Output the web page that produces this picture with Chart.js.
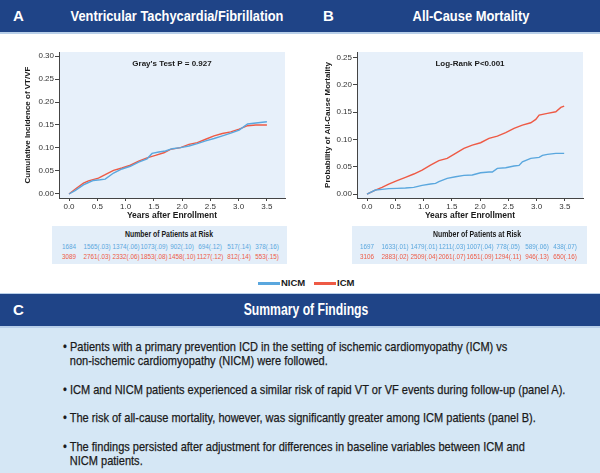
<!DOCTYPE html>
<html><head><meta charset="utf-8">
<script src="https://cdn.jsdelivr.net/npm/chart.js@4.4.1/dist/chart.umd.min.js"></script>
<style>
html,body{margin:0;padding:0;background:#fff;}
#page{position:relative;width:600px;height:473px;overflow:hidden;font-family:"Liberation Sans",Arial,sans-serif;color:#1a1a1a;}
.abs{position:absolute;white-space:nowrap;}
#barTop{position:absolute;left:0;top:0;width:600px;height:32px;background:#1f4487;border-bottom:2px solid #b8cfe9;}
#barC{position:absolute;left:0;top:293px;width:600px;height:32px;background:#1f4487;border-top:1px solid #b8cfe9;border-bottom:2px solid #b8cfe9;}
.hdr{color:#fff;font-weight:bold;}
.letter{font-size:15px;line-height:32px;}
.ctr{position:absolute;white-space:nowrap;display:inline-block;}
.htitle{font-size:15px;line-height:32px;}
#summary{position:absolute;left:0;top:328px;width:600px;height:145px;background:#d5e7f5;}
#bullets{position:absolute;left:63px;top:12px;display:inline-block;font-size:13px;line-height:14px;transform-origin:0 0;-webkit-text-stroke:0.25px #1a1a1a;color:#1a1a1a;}
#bullets p{margin:0 0 14.5px 0;padding-left:8px;text-indent:-8px;white-space:pre;}
.risk{position:absolute;top:226px;width:235px;height:38px;background:#e3eef9;}
.rtitle{font-weight:bold;font-size:8.5px;line-height:10px;top:3px;}
.rnum{position:absolute;font-size:7.5px;line-height:9px;transform:translateX(-50%) scaleX(0.84);white-space:nowrap;}
.leg{position:absolute;top:277px;font-size:9.5px;font-weight:bold;line-height:12px;}
.legline{position:absolute;top:282px;height:3px;width:22px;}
canvas{position:absolute;}
</style>
</head><body>
<div id="page">
  <div id="barTop"></div>
  <div class="abs hdr letter" style="left:13px;top:0;">A</div>
  <span class="ctr hdr htitle" id="tA" style="top:0;"></span>
  <div class="abs hdr letter" style="left:323px;top:0;">B</div>
  <span class="ctr hdr htitle" id="tB" style="top:0;"></span>

  <canvas id="cA" width="300" height="200" style="left:0;top:33px;"></canvas>
  <canvas id="cB" width="300" height="200" style="left:300px;top:33px;"></canvas>

  <div class="risk" id="rA" style="left:52px;"><span class="ctr rtitle" id="rtA"></span></div>
  <div class="risk" id="rB" style="left:352px;"><span class="ctr rtitle" id="rtB"></span></div>

  <div class="legline" style="left:258px;background:#5aa7de;"></div>
  <div class="leg" style="left:281px;" id="lg0"></div>
  <div class="legline" style="left:314px;background:#ee5a45;"></div>
  <div class="leg" style="left:337px;" id="lg1"></div>

  <div id="barC"></div>
  <div class="abs hdr letter" style="left:13px;top:294px;">C</div>
  <span class="ctr hdr htitle" id="tC" style="top:294px;font-size:16px;"></span>

  <div id="summary"><div id="bullets"></div></div>
</div>
<script>
// ---------- data ----------
const seriesNames = ['NICM', 'ICM'];
const seriesColors = ['#5aa7de', '#ee5a45'];
const panelTitles = ['Ventricular Tachycardia/Fibrillation', 'All-Cause Mortality'];
const yTitles = ['Cumulative Incidence of VT/VF', 'Probability of All-Cause Mortality'];
const xTitle = 'Years after Enrollment';
const notes = ["Gray's Test P = 0.927", 'Log-Rank P<0.001'];
const xTickVals = [0, 0.5, 1, 1.5, 2, 2.5, 3, 3.5];
const aYTicks = [0, 0.05, 0.10, 0.15, 0.20, 0.25, 0.30];
const bYTicks = [0, 0.05, 0.10, 0.15, 0.20, 0.25];

// Panel A: cumulative incidence of VT/VF
const aNicmT = [0, 0.107, 0.255, 0.344, 0.432, 0.551, 0.640, 0.788, 0.936, 1.084, 1.232, 1.380, 1.469, 1.588, 1.706, 1.825, 1.973, 2.121, 2.269, 2.417, 2.565, 2.713, 2.861, 3.009, 3.158, 3.306, 3.50];
const aNicmV = [0, 0.0074, 0.0199, 0.025, 0.0294, 0.0309, 0.0324, 0.0456, 0.0544, 0.0603, 0.0691, 0.0765, 0.0882, 0.0912, 0.0934, 0.0985, 0.1007, 0.1044, 0.1096, 0.1154, 0.1206, 0.1265, 0.1324, 0.139, 0.1522, 0.1544, 0.157];
const aIcmT = [0, 0.107, 0.255, 0.344, 0.521, 0.640, 0.788, 0.936, 1.084, 1.232, 1.380, 1.528, 1.677, 1.795, 1.973, 2.121, 2.269, 2.417, 2.565, 2.713, 2.861, 3.009, 3.158, 3.306, 3.50];
const aIcmV = [0, 0.0103, 0.0235, 0.0287, 0.0346, 0.0419, 0.0515, 0.0566, 0.0625, 0.0713, 0.0787, 0.0838, 0.0897, 0.0971, 0.1007, 0.108, 0.1118, 0.119, 0.1265, 0.1316, 0.135, 0.141, 0.1485, 0.150, 0.150];

// Panel B: all-cause mortality
const bNicmT = [0, 0.148, 0.266, 0.384, 0.532, 0.680, 0.827, 0.975, 1.123, 1.212, 1.271, 1.418, 1.566, 1.714, 1.862, 2.009, 2.157, 2.216, 2.305, 2.453, 2.600, 2.689, 2.748, 2.896, 3.044, 3.103, 3.191, 3.339, 3.487];
const bNicmV = [0, 0.0073, 0.0085, 0.0098, 0.0104, 0.011, 0.0122, 0.0159, 0.0183, 0.0195, 0.0226, 0.0287, 0.0317, 0.0341, 0.0348, 0.039, 0.0402, 0.0402, 0.047, 0.0482, 0.0512, 0.0524, 0.0591, 0.0652, 0.0671, 0.0707, 0.0726, 0.0744, 0.0744];
const bIcmT = [0, 0.148, 0.266, 0.384, 0.532, 0.680, 0.827, 0.975, 1.123, 1.271, 1.418, 1.566, 1.714, 1.862, 2.009, 2.157, 2.305, 2.453, 2.600, 2.748, 2.896, 2.985, 3.044, 3.191, 3.339, 3.428, 3.487];
const bIcmV = [0, 0.0073, 0.0122, 0.0183, 0.0244, 0.0305, 0.0366, 0.0439, 0.053, 0.061, 0.0652, 0.0744, 0.0835, 0.0896, 0.0939, 0.1018, 0.1061, 0.1122, 0.1201, 0.1262, 0.1305, 0.1366, 0.1445, 0.1476, 0.1506, 0.1585, 0.161];

// Numbers at risk
const riskTitle = 'Number of Patients at Risk';
const aRiskNicm = ['1684', '1565(.03)', '1374(.06)', '1073(.09)', '902(.10)', '694(.12)', '517(.14)', '378(.16)'];
const aRiskIcm = ['3089', '2761(.03)', '2332(.06)', '1853(.08)', '1458(.10)', '1127(.12)', '812(.14)', '553(.15)'];
const bRiskNicm = ['1697', '1633(.01)', '1479(.01)', '1211(.03)', '1007(.04)', '778(.05)', '589(.06)', '438(.07)'];
const bRiskIcm = ['3106', '2883(.02)', '2509(.04)', '2061(.07)', '1651(.09)', '1294(.11)', '946(.13)', '650(.16)'];

const summaryTitle = 'Summary of Findings';
const summaryPoints = [
  '• Patients with a primary prevention ICD in the setting of ischemic cardiomyopathy (ICM) vs\nnon-ischemic cardiomyopathy (NICM) were followed.',
  '• ICM and NICM patients experienced a similar risk of rapid VT or VF events during follow-up (panel A).',
  '• The risk of all-cause mortality, however, was significantly greater among ICM patients (panel B).',
  '• The findings persisted after adjustment for differences in baseline variables between ICM and\nNICM patients.'
];

// ---------- text ----------
function centerFit(el, cx, target) {
  el.style.left = cx + 'px';
  const w = el.offsetWidth;
  el.style.transform = 'translateX(-50%) scaleX(' + (target / w).toFixed(3) + ')';
}
const tA = document.getElementById('tA'); tA.textContent = panelTitles[0];
const tB = document.getElementById('tB'); tB.textContent = panelTitles[1];
const tC = document.getElementById('tC'); tC.textContent = summaryTitle;
const rtA = document.getElementById('rtA'); rtA.textContent = riskTitle;
const rtB = document.getElementById('rtB'); rtB.textContent = riskTitle;
centerFit(tA, 177, 213);
centerFit(tB, 471, 117);
centerFit(tC, 306, 125);
centerFit(rtA, 117, 88);
centerFit(rtB, 125, 88);
document.getElementById('lg0').textContent = seriesNames[0];
document.getElementById('lg1').textContent = seriesNames[1];
const bl = document.getElementById('bullets');
summaryPoints.forEach(s => { const p = document.createElement('p'); p.textContent = s; bl.appendChild(p); });
bl.style.transform = 'scaleX(' + (502 / bl.offsetWidth).toFixed(3) + ')';

// ---------- charts ----------
const FONT = '"Liberation Sans",Arial,sans-serif';
Chart.defaults.font.family = FONT;

const bgPlugin = {
  id: 'plotBg',
  beforeDraw(chart, args, opts) {
    const { ctx, chartArea: a } = chart;
    ctx.save(); ctx.fillStyle = opts.color;
    ctx.fillRect(a.left, a.top, a.right - a.left, a.bottom - a.top);
    ctx.restore();
  }
};
const notePlugin = {
  id: 'note',
  afterDraw(chart, args, opts) {
    const { ctx, chartArea: a } = chart;
    ctx.save();
    ctx.font = 'bold 8px ' + FONT;
    ctx.fillStyle = '#1a1a1a'; ctx.textAlign = 'center'; ctx.textBaseline = 'middle';
    ctx.fillText(opts.text, (a.left + a.right) / 2, a.top + opts.dy);
    ctx.restore();
  }
};

function pts(t, v) { return t.map((x, i) => ({ x: x, y: v[i] })); }

function makeChart(id, nicm, icm, yTicks, yMin, yMax, yTitle, note, yWidth, padRight) {
  return new Chart(document.getElementById(id), {
    type: 'line',
    data: {
      datasets: [
        { label: seriesNames[0], data: nicm, borderColor: seriesColors[0], borderWidth: 1.4, pointRadius: 0, tension: 0, fill: false },
        { label: seriesNames[1], data: icm, borderColor: seriesColors[1], borderWidth: 1.4, pointRadius: 0, tension: 0, fill: false }
      ]
    },
    options: {
      responsive: false, animation: false, devicePixelRatio: 1,
      layout: { padding: { top: 19, right: padRight, left: 0, bottom: 0 } },
      plugins: {
        legend: { display: false }, tooltip: { enabled: false },
        plotBg: { color: '#e7f0fa' },
        note: { text: note, dy: 12 }
      },
      scales: {
        x: {
          type: 'linear', min: -0.177, max: 3.82,
          afterBuildTicks: s => { s.ticks = xTickVals.map(v => ({ value: v })); },
          afterFit: s => { s.height = 35; },
          ticks: { callback: v => v.toFixed(1), font: { size: 8 }, color: '#333', padding: 1, maxRotation: 0 },
          grid: { drawOnChartArea: false, drawTicks: true, tickLength: 3, color: '#444' },
          border: { display: true, color: '#444', width: 1 },
          title: { display: true, text: xTitle, font: { size: 8.5, weight: 'bold' }, color: '#1a1a1a', padding: { top: 0, bottom: 12 } }
        },
        y: {
          min: yMin, max: yMax,
          afterBuildTicks: s => { s.ticks = yTicks.map(v => ({ value: v })); },
          afterFit: s => { s.width = yWidth; },
          ticks: { callback: v => v.toFixed(2), font: { size: 8 }, color: '#333', padding: 1 },
          grid: { drawOnChartArea: false, drawTicks: true, tickLength: 4, color: '#444' },
          border: { display: true, color: '#444', width: 1 },
          title: { display: true, text: yTitle, font: { size: 8, weight: 'bold' }, color: '#1a1a1a', padding: { top: 23, bottom: 0 } }
        }
      }
    },
    plugins: [bgPlugin, notePlugin]
  });
}

const chA = makeChart('cA', pts(aNicmT, aNicmV), pts(aIcmT, aIcmV), aYTicks, -0.0087, 0.3087, yTitles[0], notes[0], 59, 15);
const chB = makeChart('cB', pts(bNicmT, bNicmV), pts(bIcmT, bIcmV), bYTicks, -0.0073, 0.26, yTitles[1], notes[1], 57, 17);

// risk table numbers placed under the x ticks
function fillRisk(boxId, chart, boxLeft, canvasLeft, rows) {
  const box = document.getElementById(boxId);
  rows.forEach((row, r) => {
    row.forEach((txt, i) => {
      const s = document.createElement('span');
      s.className = 'rnum';
      s.textContent = txt;
      s.style.color = seriesColors[r];
      s.style.top = (r === 0 ? 16 : 26) + 'px';
      s.style.left = (chart.scales.x.getPixelForValue(xTickVals[i]) + canvasLeft - boxLeft) + 'px';
      box.appendChild(s);
    });
  });
}
fillRisk('rA', chA, 52, 0, [aRiskNicm, aRiskIcm]);
fillRisk('rB', chB, 352, 300, [bRiskNicm, bRiskIcm]);
</script>
</body></html>
